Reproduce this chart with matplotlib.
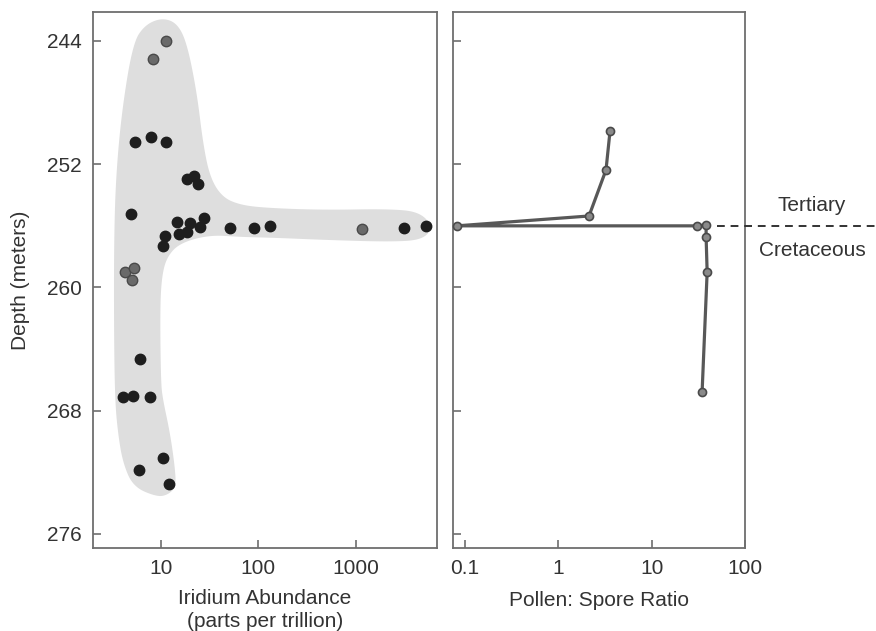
import numpy as np
import matplotlib
matplotlib.use("Agg")
import matplotlib.pyplot as plt
import matplotlib.transforms as mtransforms
from matplotlib.ticker import FixedLocator, FixedFormatter, NullLocator

plt.rcParams['font.family'] = ['Liberation Sans', 'DejaVu Sans']

# ---------------- data ----------------
# Iridium samples (dark dots)
ir_dark_ppt = [7.9, 5.4, 11.3, 18.5, 21.8, 23.9, 4.9, 14.6, 19.8, 27.6, 25.1,
               18.5, 15.3, 11.0, 10.5, 51, 90, 131, 3090, 5220,
               6.1, 4.1, 5.2, 7.7, 10.5, 5.9, 12.1]
ir_dark_depth = [250.23, 250.55, 250.55, 252.95, 252.76, 253.28, 255.23, 255.75,
                 255.81, 255.49, 256.07, 256.40, 256.52, 256.65, 257.30, 256.14,
                 256.14, 256.00, 256.14, 256.00,
                 264.64, 267.10, 267.04, 267.10, 271.06, 271.84, 272.75]
# Iridium samples (lighter dots)
ir_light_ppt = [11.3, 8.3, 1150, 4.3, 5.3, 5.0]
ir_light_depth = [244.0, 245.17, 256.2, 259.0, 258.73, 259.5]

# Outline of the shaded envelope (abundance, depth)
env_ppt = [10.2, 14.6, 18.5, 23.4, 27.0, 31.8, 42.3, 64.5, 122, 459, 2230, 4530,
           6170, 4860, 2230, 459, 155, 64.5, 31.8, 15.7, 11.5, 10.2, 9.8, 10.0,
           10.5, 12.4, 13.9, 14.3, 11.8, 9.1, 5.2, 4.07, 3.62, 3.38, 3.3, 3.3,
           3.45, 3.98, 5.17, 6.85]
env_depth = [242.5, 242.83, 244.13, 247.37, 250.62, 252.83, 254.12, 254.64, 254.84,
             254.97, 254.9, 255.1, 256.07, 256.91, 257.04, 256.91, 256.78, 256.72,
             256.59, 257.11, 258.02, 259.31, 261.46, 266.19, 267.3, 269.44, 271.64,
             272.94, 273.46, 273.59, 272.94, 271.38, 269.44, 267.3, 262.95, 257.11,
             252.83, 248.48, 244.13, 242.96]

# Pollen : spore ratio profile
ps_ratio = [3.58, 3.24, 2.13, 0.082, 30.7, 38.3, 38.3, 39.3, 34.7]
ps_depth = [249.84, 252.37, 255.36, 256.0, 256.0, 255.94, 256.72, 259.0, 266.78]

boundary_depth = 256.0

depth_ticks = [244, 252, 260, 268, 276]
ir_ticks = [10, 100, 1000]
ir_ticklabels = ['10', '100', '1000']
ps_ticks = [0.1, 1, 10, 100]
ps_ticklabels = ['0.1', '1', '10', '100']

# ---------------- figure ----------------
W, H = 876, 631
fig = plt.figure(figsize=(W / 100, H / 100), dpi=100)
fig.patch.set_facecolor('white')

top, bottom = 12, 548
ax1 = fig.add_axes([93 / W, 1 - bottom / H, (437 - 93) / W, (bottom - top) / H])
ax2 = fig.add_axes([453 / W, 1 - bottom / H, (745 - 453) / W, (bottom - top) / H])

spine_col = '#6e6e6e'
text_col = '#333333'
fs = 15

for ax in (ax1, ax2):
    ax.set_xscale('log')
    ax.set_ylim(276.91, 242.12)
    for s in ax.spines.values():
        s.set_color(spine_col)
        s.set_linewidth(1.3)
    ax.xaxis.set_minor_locator(NullLocator())
    ax.yaxis.set_minor_locator(NullLocator())
    ax.yaxis.set_major_locator(FixedLocator(depth_ticks))
    ax.tick_params(axis='both', direction='in', length=6, width=1.2,
                   color=spine_col, labelcolor=text_col, labelsize=fs, pad=8)

ax1.set_xlim(2.01, 6800)
ax2.set_xlim(0.0743, 100)

ax1.xaxis.set_major_locator(FixedLocator(ir_ticks))
ax1.xaxis.set_major_formatter(FixedFormatter(ir_ticklabels))
ax1.xaxis.set_minor_locator(NullLocator())
ax1.set_yticklabels([str(t) for t in depth_ticks])

ax2.xaxis.set_major_locator(FixedLocator(ps_ticks))
ax2.xaxis.set_major_formatter(FixedFormatter(ps_ticklabels))
ax2.xaxis.set_minor_locator(NullLocator())
ax2.tick_params(axis='y', labelleft=False)

# ---- shaded envelope, smoothed in (log x, depth) space ----
pts = np.column_stack([np.log10(env_ppt), env_depth])
for _ in range(4):
    nxt = np.roll(pts, -1, axis=0)
    q = 0.75 * pts + 0.25 * nxt
    r = 0.25 * pts + 0.75 * nxt
    pts = np.empty((2 * len(q), 2))
    pts[0::2] = q
    pts[1::2] = r
ax1.fill(10 ** pts[:, 0], pts[:, 1], color='#dedede', lw=0, zorder=1)

# ---- iridium points ----
ax1.plot(ir_dark_ppt, ir_dark_depth, 'o', ms=7.5, color='#1e1e1e',
         mec='#1e1e1e', zorder=3)
ax1.plot(ir_light_ppt, ir_light_depth, 'o', ms=7.5, color='#6a6a6a',
         mec='#4a4a4a', mew=1.0, zorder=3)

ax1.set_xlabel('Iridium Abundance\n(parts per trillion)', fontsize=fs,
               color=text_col, labelpad=8, linespacing=1.25)
ax1.set_ylabel('Depth (meters)', fontsize=fs, color=text_col, labelpad=12)

# ---- pollen:spore profile ----
ax2.plot(ps_ratio, ps_depth, '-', color='#585858', lw=2.3, zorder=3,
         solid_joinstyle='round', solid_capstyle='round', clip_on=False)
ax2.plot(ps_ratio, ps_depth, 'o', ms=5.8, mfc='#8a8a8a', mec='#4a4a4a',
         mew=1.2, zorder=4, clip_on=False)
ax2.set_xlabel('Pollen: Spore Ratio', fontsize=fs, color=text_col, labelpad=9)

# ---- K/T boundary dashed line and labels ----
blend = mtransforms.blended_transform_factory(ax2.transAxes, ax2.transData)
x0 = (717 - 453) / (745 - 453)
x1 = (876 - 453) / (745 - 453)
ax2.plot([x0, x1], [boundary_depth, boundary_depth], transform=blend,
         ls=(0, (4, 3)), color='#333333', lw=1.4, clip_on=False, zorder=5)
xt = (812 - 453) / (745 - 453)
ax2.text(xt, 254.7, 'Tertiary', transform=blend, ha='center', va='center',
         fontsize=fs, color=text_col, clip_on=False)
ax2.text(xt, 257.62, 'Cretaceous', transform=blend, ha='center', va='center',
         fontsize=fs, color=text_col, clip_on=False)

fig.savefig('out.png', dpi=100, facecolor='white')
